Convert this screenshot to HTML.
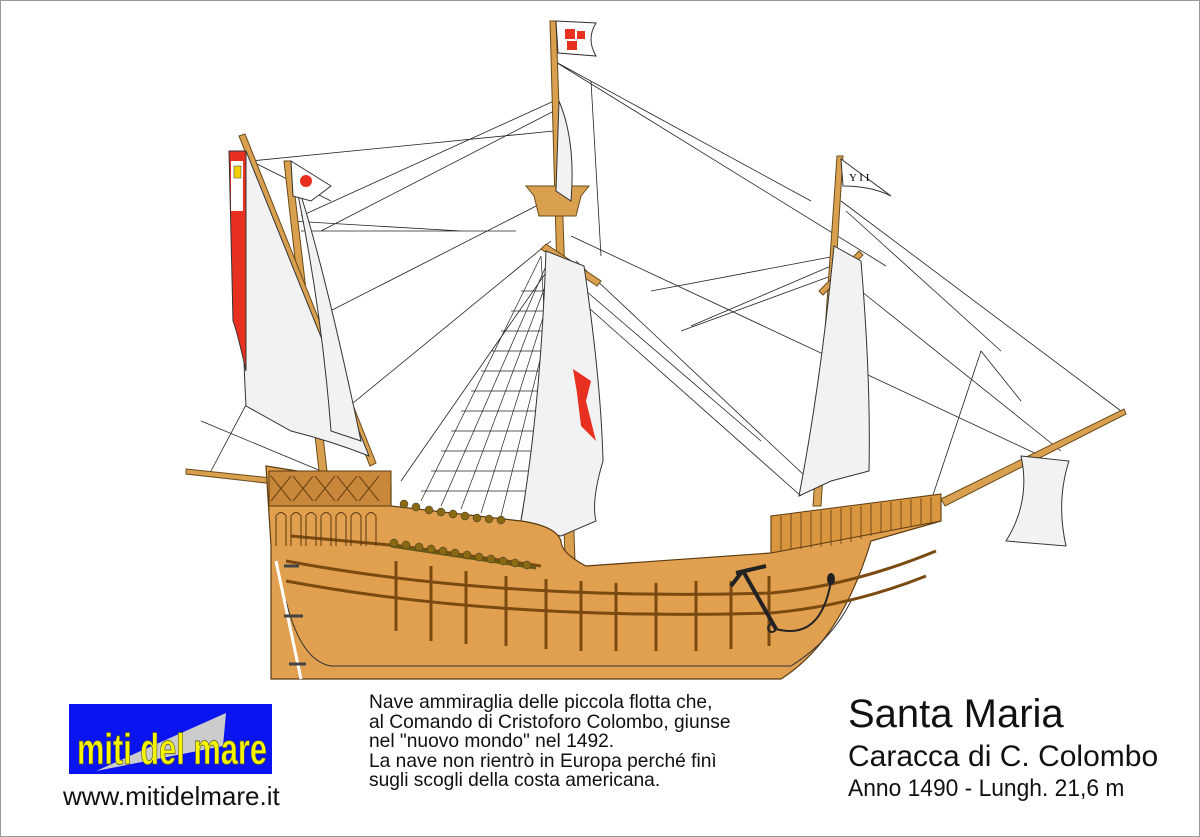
<!DOCTYPE html>
<html><head><meta charset="utf-8"><style>
body{margin:0;background:#fff}
.wrap{position:relative;width:1198px;height:835px;border:1px solid #999;overflow:hidden;font-family:"Liberation Sans",sans-serif}
svg{position:absolute;left:0;top:0}
.t{position:absolute;color:#111;white-space:nowrap}
</style></head><body><div class="wrap">
<svg width="1200" height="837" viewBox="0 0 1200 837">
<g stroke="#222" stroke-width="0.8" fill="none">
<path d="M553,60 L885,265 M553,60 L810,200 M553,100 L300,215 M553,110 L320,230 M553,130 L250,160 M570,235 L1040,455 M575,260 L820,490 M580,300 L800,495 M585,290 L760,440 M560,250 L400,480 M550,240 L330,420 M545,200 L290,330 M840,200 L1120,410 M845,210 L1000,350 M835,255 L650,290 M830,265 L690,325 M830,275 L680,330 M860,290 L1060,450 M980,350 L930,500 M980,350 L1020,400 M290,220 L460,230 M300,230 L515,230 M250,160 L330,200 M300,480 L190,470 M320,470 L200,420 M300,300 L210,470 M590,80 L600,255"/>
</g>
<g stroke="#222" stroke-width="0.7" fill="none">
<path d="M540,255 L420,500 M545,265 L440,505 M548,275 L460,508 M552,285 L480,512 M555,295 L500,515 M558,305 L520,518 M540,255 L555,520"/>
<path d="M500,330 L560,330 M490,350 L560,350 M480,370 L560,370 M470,390 L560,390 M460,410 L560,410 M450,430 L560,430 M440,450 L560,450 M430,470 L560,470 M420,490 L560,490 M510,310 L560,310 M520,290 L560,290"/>
</g>
<g fill="#d9a050" stroke="#6a4a1a" stroke-width="1">
<polygon points="549,20 555,20 574,560 564,560"/>
<polygon points="836,155 842,155 820,505 812,505"/>
<polygon points="283,160 290,160 326,470 318,470"/>
<polygon points="238,135 244,133 375,462 369,465"/>
<polygon points="940,498 1123,408 1125,413 944,505"/>
<polygon points="185,468 300,480 300,486 185,473"/>
<polygon points="540,248 545,243 600,280 596,285"/>
<polygon points="818,290 858,250 862,254 822,294"/>
<polygon points="525,185 588,185 580,195 575,215 538,215 533,195"/>
</g>
<g fill="#f2f2f2" stroke="#333" stroke-width="1">
<path d="M545,250 L583,265 Q600,380 602,460 Q590,500 595,520 L560,535 Q530,530 520,520 Q540,400 545,250Z"/>
<path d="M558,100 Q575,140 570,200 L555,190Z"/>
<path d="M245,150 Q290,260 368,455 Q330,440 290,430 L245,405 Q238,280 245,150Z"/>
<path d="M292,170 Q320,250 360,440 L330,430 Q320,300 292,170Z"/>
<path d="M833,245 L860,260 Q870,380 868,470 L830,480 L798,495 Q820,380 833,245Z"/>
<path d="M1020,455 L1068,460 Q1055,500 1065,545 L1005,540 Q1030,500 1020,455Z"/>
</g>
<path d="M572,368 L590,380 L585,400 L595,440 L580,425 L576,392Z" fill="#e83020"/>
<path d="M555,20 L595,22 Q585,38 595,55 L557,52Z" fill="#fff" stroke="#333"/>
<rect x="564" y="28" width="10" height="10" fill="#e83020"/><rect x="576" y="30" width="8" height="8" fill="#e83020"/><rect x="566" y="40" width="10" height="9" fill="#e83020"/>
<path d="M228,150 L245,150 L245,370 Q236,330 232,320 Z" fill="#e83020" stroke="#333"/>
<rect x="230" y="160" width="12" height="50" fill="#fff"/><rect x="233" y="165" width="7" height="12" fill="#f5d000" stroke="#333" stroke-width=".5"/>
<path d="M290,160 L330,185 L310,200 L292,195Z" fill="#fff" stroke="#333"/>
<circle cx="305" cy="180" r="6" fill="#e83020"/>
<path d="M840,158 L890,195 Q870,185 842,185Z" fill="#fff" stroke="#333"/>
<text x="848" y="180" font-size="11" font-family="Liberation Serif">Y I I</text>
<path d="M270,545 L270,678 L780,678 Q840,640 870,540 L940,520 L940,500 L770,515 L770,552 L585,565 Q560,552 560,540 Q555,525 520,520 L390,505 L390,485 L265,465 Z" fill="#e0a050" stroke="#5a3a10" stroke-width="1.2"/>
<path d="M285,600 Q300,660 330,665 L790,665 Q830,640 850,600" fill="none" stroke="#333"/>
<g stroke="#7a4a10" stroke-width="3" fill="none">
<path d="M285,560 Q500,600 770,592 Q850,585 935,550"/>
<path d="M285,580 Q500,620 770,612 Q850,605 925,575"/>
<path d="M290,535 L400,545 L540,565"/>
</g>
<g stroke="#7a4a10" stroke-width="3">
<path d="M395,560 V630 M430,565 V640 M465,570 V643 M505,575 V645 M545,578 V648 M580,580 V650 M615,582 V650 M655,582 V650 M695,580 V650 M730,580 V648 M768,575 V645"/>
</g>
<rect x="268" y="470" width="122" height="35" fill="#c8873a" stroke="#5a3a10"/>
<g stroke="#5a3a10" stroke-width="1" fill="none">
<path d="M270,475 L290,500 M290,475 L270,500 M292,475 L312,500 M312,475 L292,500 M314,475 L334,500 M334,475 L314,500 M336,475 L356,500 M356,475 L336,500 M358,475 L378,500 M378,475 L358,500"/>
<path d="M275,545 V515 Q280,508 285,515 V545 M290,545 V515 Q295,508 300,515 V545 M305,545 V515 Q310,508 315,515 V545 M320,545 V515 Q325,508 330,515 V545 M335,545 V515 Q340,508 345,515 V545 M350,545 V515 Q355,508 360,515 V545 M365,545 V515 Q370,508 375,515 V545"/>
</g>
<polygon points="770,515 940,493 940,520 770,552" fill="#d9963f" stroke="#5a3a10"/>
<g stroke="#5a3a10" stroke-width="0.8"><path d="M780,515 V550 M790,513 V549 M800,512 V548 M810,511 V547 M820,510 V546 M830,509 V545 M840,507 V543 M850,506 V541 M860,505 V538 M870,503 V535 M880,502 V532 M890,501 V529 M900,500 V527 M910,498 V525 M920,497 V523 M930,496 V521"/></g>
<path d="M390,545 L535,567" stroke="#6a5a10" stroke-width="3"/>
<g fill="#8a6a10" stroke="#333" stroke-width=".5">
<circle cx="403" cy="503" r="4"/><circle cx="415" cy="506" r="4"/><circle cx="428" cy="509" r="4"/><circle cx="440" cy="511" r="4"/><circle cx="452" cy="513" r="4"/><circle cx="464" cy="515" r="4"/><circle cx="476" cy="517" r="4"/><circle cx="488" cy="518" r="4"/><circle cx="500" cy="519" r="4"/>
<circle cx="393" cy="542" r="4"/><circle cx="405" cy="544" r="4"/><circle cx="418" cy="546" r="4"/><circle cx="430" cy="548" r="4"/><circle cx="442" cy="550" r="4"/><circle cx="454" cy="552" r="4"/><circle cx="466" cy="554" r="4"/><circle cx="478" cy="556" r="4"/><circle cx="490" cy="558" r="4"/><circle cx="502" cy="560" r="4"/><circle cx="514" cy="562" r="4"/><circle cx="526" cy="564" r="4"/>
</g>
<path d="M742,570 L775,628 M735,572 L765,565 M740,572 L730,585" stroke="#222" stroke-width="4" fill="none"/>
<path d="M775,628 Q820,640 830,580" stroke="#222" stroke-width="2" fill="none"/>
<circle cx="771" cy="627" r="4" fill="none" stroke="#222" stroke-width="2"/>
<ellipse cx="830" cy="578" rx="4" ry="6" fill="#222"/>
<path d="M275,560 L300,678" stroke="#fff" stroke-width="3"/>
<path d="M283,565 H298 M283,615 H302 M288,663 H305" stroke="#444" stroke-width="3"/>
<rect x="68" y="703" width="203" height="70" fill="#0a14f0"/>
<polygon points="95,770 225,712 222,745" fill="#ccc"/>
<text x="76" y="763" font-size="44" font-weight="bold" fill="#f5f500" stroke="#553" stroke-width=".8" font-family="Liberation Sans Narrow,Liberation Sans,sans-serif" textLength="190" lengthAdjust="spacingAndGlyphs">miti del mare</text>
</svg>
<div class="t" style="left:62px;top:780px;font-size:26px">www.mitidelmare.it</div>
<div class="t" style="left:368px;top:692px;font-size:19.2px;line-height:19.6px">Nave ammiraglia delle piccola flotta che,<br>al Comando di Cristoforo Colombo, giunse<br>nel "nuovo mondo" nel 1492.<br>La nave non rientrò in Europa perché finì<br>sugli scogli della costa americana.</div>
<div class="t" style="left:847px;top:691px;font-size:40px">Santa Maria</div>
<div class="t" style="left:847px;top:739px;font-size:30px">Caracca di C. Colombo</div>
<div class="t" style="left:847px;top:774px;font-size:24px;transform:scaleX(.95);transform-origin:left">Anno 1490 - Lungh. 21,6 m</div>
</div></body></html>
